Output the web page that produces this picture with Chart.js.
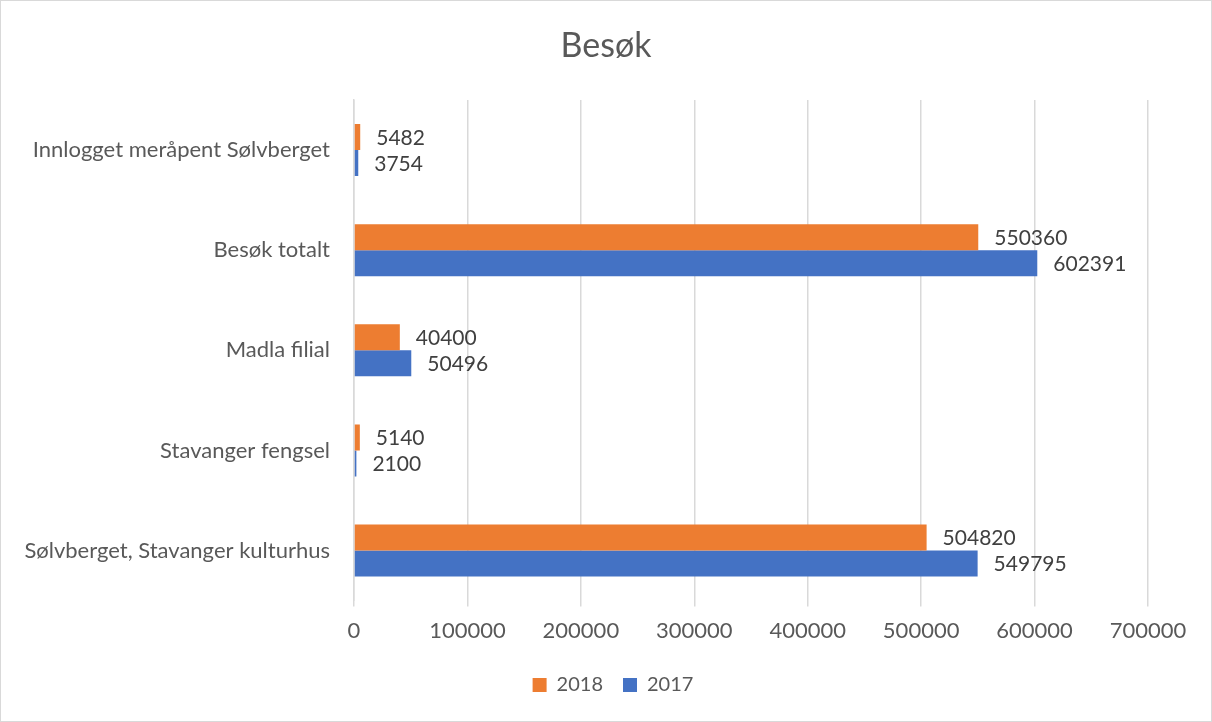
<!DOCTYPE html>
<html>
<head>
<meta charset="utf-8">
<script src="https://cdn.jsdelivr.net/npm/chart.js@4/dist/chart.umd.min.js"></script>
<style>
  body { margin: 0; background: #fff; }
  #wrap { width: 1210px; height: 720px; border: 1px solid #d9d9d9; }
</style>
</head>
<body>
<div id="wrap"><canvas id="besok" width="1210" height="720"></canvas></div>
<script>
// kategorier ovenfra og ned
var kategorier = ['Innlogget meråpent Sølvberget', 'Besøk totalt', 'Madla filial', 'Stavanger fengsel', 'Sølvberget, Stavanger kulturhus'];
var besok2018 = [5482, 550360, 40400, 5140, 504820];
var besok2017 = [3754, 602391, 50496, 2100, 549795];
var xTicks = [0, 100000, 200000, 300000, 400000, 500000, 600000, 700000];
var tittel = 'Besøk';

var fontFam = 'Lato, "Open Sans", sans-serif';
var grå = '#595959';

// tall ved enden av hver stolpe
var verdiEtiketter = {
  id: 'verdiEtiketter',
  afterDatasetsDraw: function(chart) {
    var ctx = chart.ctx;
    ctx.save();
    ctx.font = '21px ' + fontFam;
    ctx.fillStyle = '#404040';
    ctx.textBaseline = 'middle';
    chart.data.datasets.forEach(function(ds, i) {
      chart.getDatasetMeta(i).data.forEach(function(bar, j) {
        ctx.fillText(ds.data[j], bar.x + 16, bar.y + 1);
      });
    });
    ctx.restore();
  }
};

// tittel midt på hele lerretet, og legenden flyttet mot midten
var midtTittel = {
  id: 'midtTittel',
  afterLayout: function(chart) {
    chart.legend.left = 0;
    chart.legend.right = 1224;
  },
  afterDraw: function(chart) {
    var ctx = chart.ctx;
    ctx.save();
    ctx.font = '34px ' + fontFam;
    ctx.fillStyle = grå;
    ctx.textAlign = 'center';
    ctx.textBaseline = 'middle';
    ctx.fillText(tittel, chart.width / 2, 45);
    ctx.restore();
  }
};

var ctx = document.getElementById('besok').getContext('2d');
var graf = new Chart(ctx, {
  type: 'bar',
  data: {
    labels: kategorier,
    datasets: [
      { label: '2018', data: besok2018, backgroundColor: '#ed7d31', borderWidth: 0 },
      { label: '2017', data: besok2017, backgroundColor: '#4472c4', borderWidth: 0 }
    ]
  },
  options: {
    indexAxis: 'y',
    responsive: false,
    animation: false,
    layout: { padding: { left: 0, right: 63, top: 99, bottom: 16 } },
    plugins: {
      title: { display: false },
      legend: {
        position: 'bottom',
        labels: {
          color: grå,
          font: { family: fontFam, size: 20 },
          boxWidth: 14,
          boxHeight: 14,
          padding: 20
        }
      },
      tooltip: { enabled: false }
    },
    datasets: { bar: { categoryPercentage: 0.52, barPercentage: 1 } },
    scales: {
      x: {
        min: 0,
        max: 700000,
        afterBuildTicks: function(scale) {
          scale.ticks = xTicks.map(function(v) { return { value: v }; });
        },
        ticks: {
          color: grå,
          font: { family: fontFam, size: 22 },
          padding: 11,
          callback: function(v) { return String(v); }
        },
        grid: { color: '#d9d9d9', lineWidth: 1.5, tickLength: 6, drawTicks: true },
        border: { display: false }
      },
      y: {
        afterFit: function(scale) { scale.width = 353; },
        ticks: {
          color: grå,
          font: { family: fontFam, size: 22 },
          padding: 16
        },
        grid: { display: false },
        border: { color: '#d9d9d9', width: 1.5 }
      }
    }
  },
  plugins: [verdiEtiketter, midtTittel]
});
</script>
</body>
</html>
